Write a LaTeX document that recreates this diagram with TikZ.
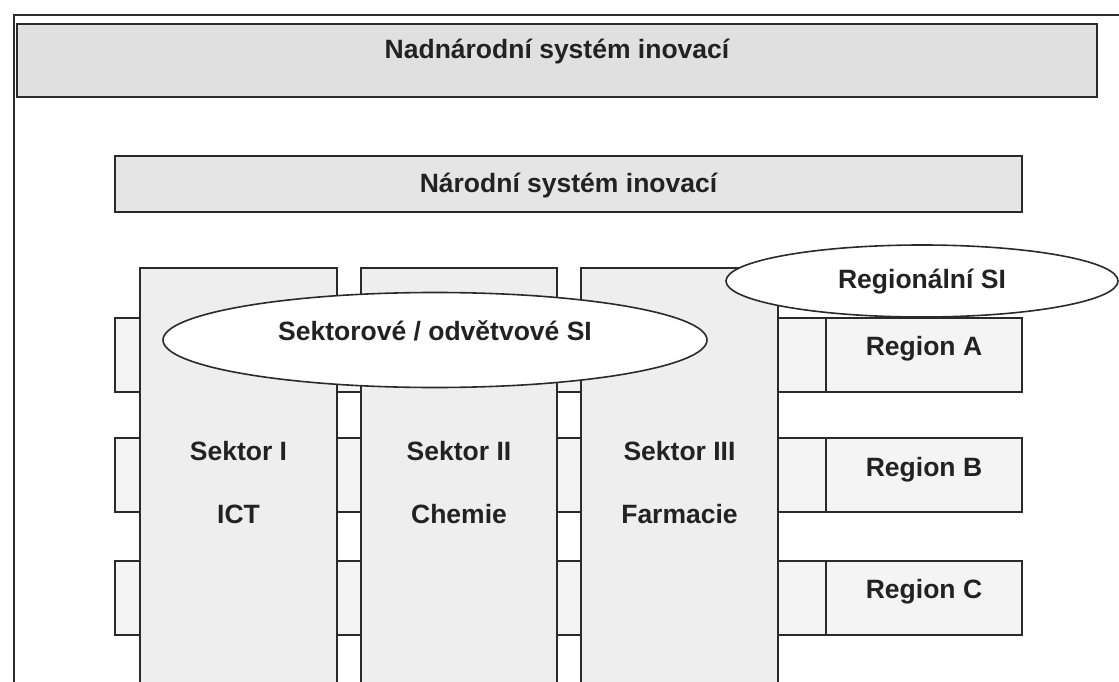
\documentclass[tikz,border=0pt]{standalone}
\usepackage{fontspec}
\setmainfont{Liberation Sans}
\usetikzlibrary{shapes.geometric}
\definecolor{lineC}{HTML}{2A2A2A}
\definecolor{topF}{HTML}{E0E0E0}
\definecolor{natF}{HTML}{E5E5E5}
\definecolor{colF}{HTML}{EEEEEE}
\definecolor{barF}{HTML}{F4F4F4}
\definecolor{txtC}{HTML}{222222}
\begin{document}
\begin{tikzpicture}[x=1pt,y=-1pt,
  box/.style={draw=lineC, line width=2pt, rectangle, inner sep=0pt, outer sep=0pt},
  oval/.style={draw=lineC, line width=1.6pt, ellipse, fill=white, inner sep=0pt},
  txt/.style={font=\fontsize{26.5}{30}\selectfont\bfseries, text=txtC, anchor=base, inner sep=0pt}]
\useasboundingbox (0,0) rectangle (1119,682);
\clip (0,0) rectangle (1119,682);
% outer frame
\coordinate (fA) at (14,700);
\coordinate (fB) at (14,15);
\coordinate (fC) at (1130,15);
\draw[lineC, line width=2.8pt] (fA) -- (fB) -- (fC);
% top box
\node[box, fill=topF, minimum width=1080pt, minimum height=73pt] (top) at (557,60.5) {};
\node[txt] (toptxt) at (557,59) {Nadnárodní systém inovací};
% national box
\node[box, fill=natF, minimum width=907pt, minimum height=56pt] (nat) at (568.5,184) {};
\node[txt] (nattxt) at (568.5,192) {Národní systém inovací};
% region rows
\foreach \n/\yc/\yb/\lab in {A/354.5/355/Region A, B/474.5/476/Region B, C/598/598/Region C}{
  \node[box, fill=barF, minimum width=711pt, minimum height=74pt] (bar\n) at (470.5,\yc) {};
  \node[box, fill=barF, minimum width=196pt, minimum height=74pt] (reg\n) at (924,\yc) {};
  \node[txt] (regtxt\n) at (924,\yb) {\lab};
}
% sector columns
\node[box, fill=colF, minimum width=197pt, minimum height=440pt] (s1) at (238.5,488) {};
\node[box, fill=colF, minimum width=196pt, minimum height=440pt] (s2) at (459,488) {};
\node[box, fill=colF, minimum width=197pt, minimum height=440pt] (s3) at (679.5,488) {};
\node[txt] (s1a) at (238.5,460) {Sektor I};
\node[txt] (s1b) at (238.5,523) {ICT};
\node[txt] (s2a) at (459,460) {Sektor II};
\node[txt] (s2b) at (459,523) {Chemie};
\node[txt] (s3a) at (679.5,460) {Sektor III};
\node[txt] (s3b) at (679.5,523) {Farmacie};
% ellipses
\node[oval, minimum width=544pt, minimum height=95pt] (sekt) at (435,340) {};
\node[txt] (sekttxt) at (435,340) {Sektorové / odvětvové SI};
\node[oval, minimum width=392pt, minimum height=72pt] (regsi) at (922,281) {};
\node[txt] (regsitxt) at (922,288) {Regionální SI};
\end{tikzpicture}
\end{document}
